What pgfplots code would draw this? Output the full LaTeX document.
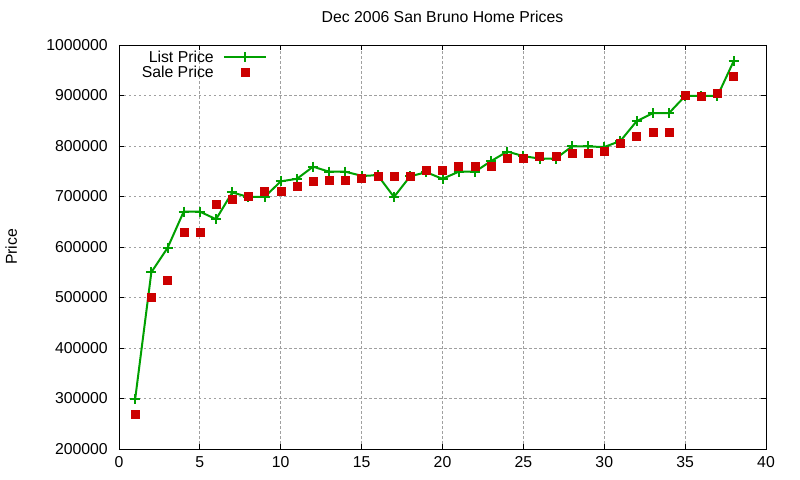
\documentclass[border=0pt]{standalone}
\usepackage{fontspec}
\setmainfont{Liberation Sans}
\usepackage{pgfplots}
\pgfplotsset{compat=1.18}

\definecolor{listgreen}{RGB}{0,160,0}
\definecolor{salered}{RGB}{204,0,0}
\definecolor{gridgray}{RGB}{160,160,160}
\newcommand\gfont{\fontsize{15.8bp}{19bp}\selectfont}

\pgfplotstableread{
x price
1 299000
2 550000
3 598000
4 670000
5 670000
6 655000
7 708000
8 699000
9 699000
10 730000
11 735000
12 759000
13 749000
14 749000
15 741000
16 742000
17 699000
18 740000
19 748000
20 735000
21 749000
22 749000
23 770000
24 789000
25 780000
26 775000
27 775000
28 799000
29 799000
30 798000
31 810000
32 849000
33 865000
34 865000
35 899000
36 899000
37 899000
38 968000
}\listprice

\pgfplotstableread{
x price
1 269000
2 500000
3 535000
4 630000
5 630000
6 685000
7 695000
8 700000
9 710000
10 710000
11 720000
12 730000
13 733000
14 733000
15 737000
16 740000
17 740000
18 740000
19 753000
20 753000
21 760000
22 760000
23 760000
24 775000
25 775000
26 780000
27 780000
28 786000
29 786000
30 790000
31 805000
32 820000
33 828000
34 828000
35 900000
36 899000
37 905000
38 939000
}\saleprice

\begin{document}
\begin{tikzpicture}
\begin{axis}[
    scale only axis,
    width=647bp, height=404bp,
    xmin=0, xmax=40, ymin=200000, ymax=1000000,
    xtick distance=5, ytick distance=100000,
    scaled y ticks=false,
    /pgf/number format/.cd, fixed, precision=0, 1000 sep={}, assume math mode=true, /pgfplots/.cd,
    tick align=inside, tick pos=both,
    major tick length=5bp,
    tick style={black, line width=0.9bp},
    axis line style={black, line width=0.9bp},
    grid=major,
    grid style={gridgray, line width=0.9bp, dash pattern=on 2.5bp off 2.5bp},
    ticklabel style={font=\gfont, inner sep=0pt},
    yticklabel style={xshift=-11bp},
    xticklabel style={yshift=-7bp},
    title={Dec 2006 San Bruno Home Prices},
    title style={font=\gfont, at={(axis description cs:0.5,1)}, anchor=base, yshift=17bp},
    ylabel={Price},
    every axis y label/.style={at={(axis description cs:-0.1577,0.5)}, rotate=90, anchor=base, font=\gfont},
    legend plot pos=right,
    legend cell align=right,
    legend style={draw=none, fill=none, inner sep=0pt, font=\gfont,
        nodes={inner sep=0pt}, column sep=9bp, row sep=2bp,
        at={(axis description cs:0.2287,0.986)}, anchor=north east},
]
\addplot[listgreen, line width=2bp, mark=+, mark size=5bp, mark options={solid, line width=2bp},
    legend image code/.code={\draw[mark repeat=2, mark phase=2] plot coordinates {(0bp,0bp) (21bp,0bp) (42bp,0bp)};}]
    table[x=x, y=price] {\listprice};
\addlegendentry{List Price}
\addplot[only marks, mark=square*, mark size=4bp, color=salered, mark options={draw=salered, fill=salered},
    legend image code/.code={\draw[only marks] plot coordinates {(21bp,0bp)};}]
    table[x=x, y=price] {\saleprice};
\addlegendentry{Sale Price}
\end{axis}
\path ([xshift=-119bp, yshift=-31bp]current axis.south west) rectangle ([xshift=34bp, yshift=45bp]current axis.north east);
\end{tikzpicture}
\end{document}
